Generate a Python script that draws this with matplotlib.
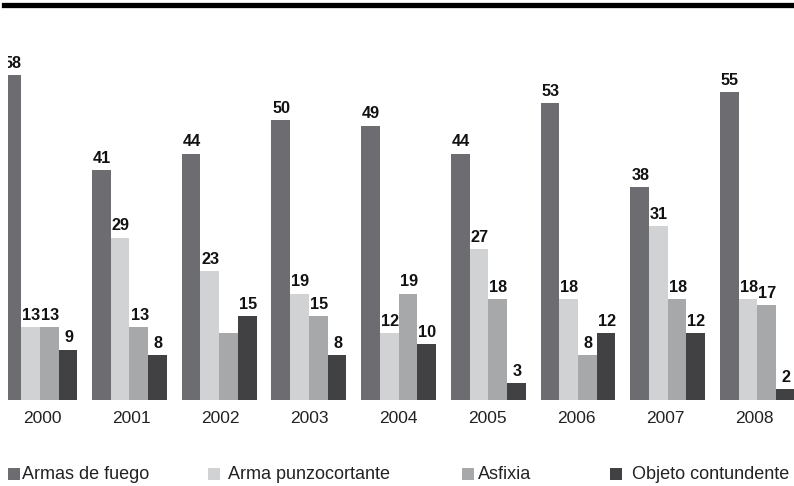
import matplotlib
matplotlib.use("Agg")
import matplotlib.pyplot as plt
from matplotlib.patches import Rectangle
from matplotlib.lines import Line2D
import numpy as np

years = ["2000", "2001", "2002", "2003", "2004", "2005", "2006", "2007", "2008"]
series_names = ["Armas de fuego", "Arma punzocortante", "Asfixia", "Objeto contundente"]
armas = [58, 41, 44, 50, 49, 44, 53, 38, 55]
punzo = [13, 29, 23, 19, 12, 27, 18, 31, 18]
asfixia = [13, 13, 12, 15, 19, 18, 8, 18, 17]
objeto = [9, 8, 15, 8, 10, 3, 12, 12, 2]
colors = ["#6d6d71", "#d1d2d4", "#a7a8aa", "#414143"]
# (series index, year index) of bars shown without a value label
unlabeled = {(2, 2)}

plt.rcParams['font.family'] = ['Liberation Sans', 'DejaVu Sans']

W, H = 794, 486
fig = plt.figure(figsize=(W / 100, H / 100), dpi=100)
ax_left, ax_right, ax_top, ax_bottom = 8, 794, 8, 400
ax = fig.add_axes([ax_left / W, 1 - ax_bottom / H, (ax_right - ax_left) / W, (ax_bottom - ax_top) / H])

unit = 89.7
c0 = 39.8
ax.set_xlim((ax_left - c0) / unit, (ax_right - c0) / unit)
ax.set_ylim(0, (ax_bottom - ax_top) / 5.6)

bw = 0.209
x = np.arange(len(years))
all_series = [armas, punzo, asfixia, objeto]
for si, vals in enumerate(all_series):
    offs = (si - 1.5) * bw
    ax.bar(x + offs, vals, width=bw, color=colors[si], linewidth=0)
    for yi, v in enumerate(vals):
        if (si, yi) in unlabeled:
            continue
        ax.annotate(str(v), (x[yi] + offs, v), xytext=(0.5, 3), textcoords="offset points",
                    ha="center", va="bottom", fontsize=11.7, fontweight="bold",
                    color="#111111", clip_on=True, annotation_clip=False)

for s in ax.spines.values():
    s.set_visible(False)
ax.set_yticks([])
ax.set_xticks([])

for yi, yr in enumerate(years):
    fig.text((42.8 + 89.0 * yi) / W, 1 - 418.5 / H, yr, ha="center", va="center",
             fontsize=12.5, color="#222222")

# top rule
fig.add_artist(Line2D([4 / W, 1], [1 - 5 / H, 1 - 5 / H], color="black", linewidth=3.8,
                      transform=fig.transFigure))

# legend
leg_x = [8, 208, 462, 610]
leg_tx = [22, 228, 478, 632]
for si, name in enumerate(series_names):
    fig.add_artist(Rectangle((leg_x[si] / W, 1 - 480 / H), 12 / W, 12 / H,
                             transform=fig.transFigure, color=colors[si], linewidth=0))
    fig.text(leg_tx[si] / W, 1 - 474.5 / H, name, ha="left", va="center",
             fontsize=13, color="#222222")

fig.savefig("out.png", dpi=100)
